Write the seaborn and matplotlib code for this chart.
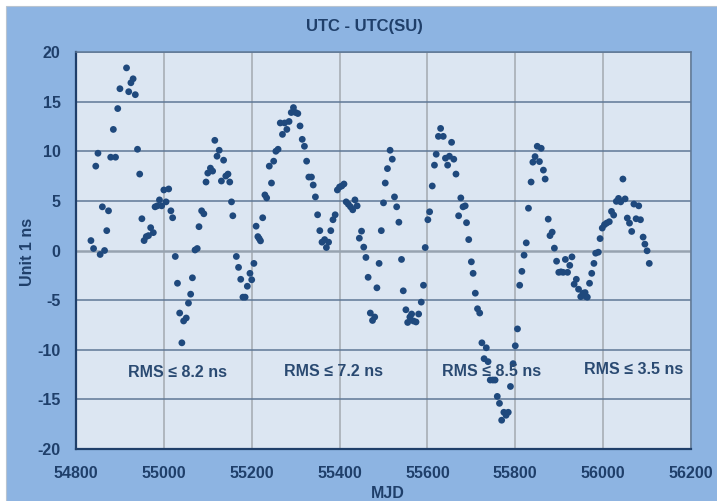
import numpy as np
import pandas as pd
import matplotlib
matplotlib.use("Agg")
import matplotlib.pyplot as plt
from matplotlib.patches import Rectangle
import seaborn as sns

# MJD and UTC - UTC(SU) offset (ns)
mjd = [
    54834, 54840, 54845, 54850, 54855, 54860, 54865, 54870, 54874, 54879,
    54885, 54890, 54895, 54900, 54915, 54920, 54925, 54930, 54935, 54940,
    54945, 54950, 54955, 54960, 54965, 54970, 54976, 54980, 54985, 54990,
    54995, 55000, 55005, 55011, 55016, 55020, 55026, 55031, 55036, 55041,
    55045, 55051, 55056, 55061, 55065, 55071, 55076, 55080, 55086, 55091,
    55096, 55100, 55106, 55111, 55116, 55121, 55126, 55131, 55136, 55141,
    55146, 55150, 55154, 55157,
    55165, 55170, 55175, 55180, 55185, 55190, 55196, 55200, 55205, 55210,
    55214, 55217, 55220, 55225, 55230, 55234, 55240, 55245, 55250, 55255,
    55260, 55265, 55270, 55275, 55280, 55285, 55290, 55295, 55300, 55305,
    55310, 55315, 55320, 55325, 55330, 55336, 55340, 55345, 55350, 55355,
    55360, 55366, 55370, 55375, 55380, 55385, 55390, 55395, 55400, 55405,
    55410, 55415, 55420, 55425, 55430, 55435, 55440, 55445, 55450, 55455,
    55460, 55465, 55470, 55475, 55480, 55485, 55490, 55495, 55500, 55504,
    55509, 55515, 55520, 55525, 55530, 55535, 55541, 55545, 55551, 55555,
    55560, 55564, 55568, 55574, 55580, 55586, 55591, 55595, 55601, 55605,
    55611, 55616, 55620, 55625, 55630, 55636, 55641, 55646, 55650, 55655,
    55660, 55665, 55671, 55676, 55681, 55686, 55689, 55694, 55700, 55704,
    55709, 55714, 55719, 55724, 55729, 55734, 55738, 55743, 55749, 55754,
    55759, 55764, 55769, 55774, 55779, 55784, 55789, 55795, 55800, 55805,
    55810, 55815, 55820, 55825, 55830, 55836, 55840, 55845, 55850, 55855,
    55859, 55864, 55868, 55875, 55879, 55884, 55889, 55894, 55899, 55904,
    55909, 55914, 55919, 55924, 55929, 55934, 55939, 55944, 55949, 55954,
    55959, 55961, 55964, 55969, 55974, 55979, 55983, 55989, 55993, 55998,
    56003, 56008, 56014, 56019, 56024, 56030, 56035, 56040, 56045, 56050,
    56055, 56060, 56065, 56070, 56075, 56081, 56085, 56091, 56095, 56100,
    56105,
]
offset_ns = [
    1.0, 0.2, 8.5, 9.8, -0.4, 4.4, 0.0, 2.0, 4.0, 9.4,
    12.2, 9.4, 14.3, 16.3, 18.4, 16.0, 16.9, 17.3, 15.7, 10.2,
    7.7, 3.2, 1.0, 1.4, 1.5, 2.3, 1.8, 4.4, 4.5, 5.1,
    4.5, 6.1, 4.9, 6.2, 4.0, 3.3, -0.6, -3.3, -6.3, -9.3,
    -7.1, -6.8, -5.3, -4.4, -2.75, 0.05, 0.2, 2.4, 4.0, 3.7,
    6.9, 7.8, 8.3, 8.0, 11.1, 9.5, 10.1, 7.0, 9.1, 7.5,
    7.7, 6.9, 4.9, 3.5,
    -0.6, -1.7, -2.9, -4.7, -4.7, -3.6, -2.3, -2.95, -1.3, 2.45,
    1.4, 1.2, 0.97, 3.3, 5.6, 5.3, 8.5, 6.8, 9.0, 10.0,
    10.2, 12.85, 11.7, 12.85, 12.2, 13.0, 13.9, 14.4, 13.9, 13.8,
    12.55, 11.2, 10.5, 9.0, 7.4, 7.4, 6.6, 5.4, 3.6, 2.0,
    0.84, 1.1, 0.3, 0.84, 2.0, 3.1, 3.6, 6.1, 6.4, 6.5,
    6.7, 4.9, 4.66, 4.4, 4.1, 5.1, 4.5, 1.24, 1.95, 0.34,
    -0.7, -2.7, -6.3, -7.05, -6.7, -3.76, -1.3, 2.0, 4.8, 6.8,
    8.25, 10.1, 9.2, 5.4, 4.4, 2.85, -0.9, -4.06, -5.97, -7.25,
    -6.7, -6.4, -7.1, -7.2, -6.4, -5.2, -3.5, 0.3, 3.1, 3.9,
    6.5, 8.6, 9.7, 11.5, 12.3, 11.5, 9.3, 8.6, 9.5, 10.9,
    9.2, 7.7, 3.5, 5.3, 4.4, 4.5, 2.8, 1.1, -1.14, -2.3,
    -4.3, -5.87, -6.3, -9.3, -10.9, -9.8, -11.2, -13.05, -13.05, -13.05,
    -14.7, -15.4, -17.1, -16.3, -16.6, -16.3, -13.7, -11.4, -9.6, -7.9,
    -3.5, -2.1, -0.47, 0.77, 4.26, 6.9, 8.9, 9.46, 10.5, 8.96,
    10.3, 8.1, 7.2, 3.16, 1.5, 1.85, 0.24, -1.08, -2.2, -2.15,
    -2.2, -0.9, -2.2, -1.5, -0.64, -3.4, -2.9, -3.9, -4.65, -4.3,
    -4.24, -4.65, -4.7, -3.3, -2.3, -1.3, -0.27, -0.17, 1.2, 2.26,
    2.6, 2.76, 2.9, 3.94, 3.57, 4.95, 5.25, 4.9, 7.2, 5.2,
    3.27, 2.76, 1.92, 4.68, 3.2, 4.5, 3.1, 1.35, 0.64, -0.03,
    -1.3,
]

rms_labels = ["RMS ≤ 8.2 ns", "RMS ≤ 7.2 ns", "RMS ≤ 8.5 ns", "RMS ≤ 3.5 ns"]
rms_x = [55030, 55387, 55747, 56070]
rms_y = [-12.3, -12.2, -12.2, -12.0]

x_ticks = [54800, 55000, 55200, 55400, 55600, 55800, 56000, 56200]
y_ticks = [-20, -15, -10, -5, 0, 5, 10, 15, 20]

df = pd.DataFrame({"MJD": mjd, "offset": offset_ns})

sns.set_theme(style="white")
plt.rcParams["font.family"] = ["Liberation Sans", "DejaVu Sans"]
plt.rcParams["axes.unicode_minus"] = False

navy = "#1F3F6A"
dot = "#1F497D"

fig = plt.figure(figsize=(7.17, 5.01), dpi=100)
fig.patch.set_facecolor("white")
fig.patches.append(Rectangle((6 / 717, 0), 1, 1 - 6 / 501, transform=fig.transFigure,
                             facecolor="#8DB4E2", edgecolor="#B8C4D0", lw=0.8, zorder=-5))
ax = fig.add_axes([76 / 717, 1 - 449 / 501, 615 / 717, 397 / 501])
ax.set_facecolor("#DCE6F2")

for v in x_ticks[1:]:
    ax.axvline(v, color="#A3A9B0", lw=1.1, zorder=1)
for v in y_ticks[1:]:
    ax.axhline(v, color="#5F7896" if v != 0 else "#97A3B0",
               lw=1.1 if v != 0 else 1.8, zorder=1)

sns.scatterplot(data=df, x="MJD", y="offset", ax=ax, color=dot, s=24,
                edgecolor="none", linewidth=0, zorder=3, legend=False)

for lab, xx, yy in zip(rms_labels, rms_x, rms_y):
    ax.text(xx, yy, lab, ha="center", va="center", fontsize=11.5,
            fontweight="bold", color="#2A4A72", zorder=4)

ax.set_xlim(54800, 56200)
ax.set_ylim(-20, 20)
ax.set_xticks(x_ticks)
ax.set_yticks(y_ticks)
ax.tick_params(axis="x", direction="in", length=5, color=navy, pad=12,
               labelsize=11.5, labelcolor=navy)
ax.tick_params(axis="y", direction="out", length=4, color=navy, pad=7,
               labelsize=11.5, labelcolor=navy)
for t in ax.get_xticklabels() + ax.get_yticklabels():
    t.set_fontweight("bold")

for side in ["left", "bottom"]:
    ax.spines[side].set_color(navy)
    ax.spines[side].set_linewidth(1.6)
for side in ["top", "right"]:
    ax.spines[side].set_color("#5F7896")
    ax.spines[side].set_linewidth(1.1)

ax.set_xlabel("")
ax.set_ylabel("")
fig.text(28 / 717, 1 - 252 / 501, "Unit 1 ns", rotation=90, ha="center", va="center",
         fontsize=11.5, fontweight="bold", color=navy)
fig.text(388 / 717, 1 - 493 / 501, "MJD", ha="center", va="center",
         fontsize=11.5, fontweight="bold", color=navy)
fig.text(364 / 717, 1 - 26 / 501, "UTC - UTC(SU)", ha="center", va="center",
         fontsize=12, fontweight="bold", color=navy)

fig.savefig("out.png", dpi=100)
